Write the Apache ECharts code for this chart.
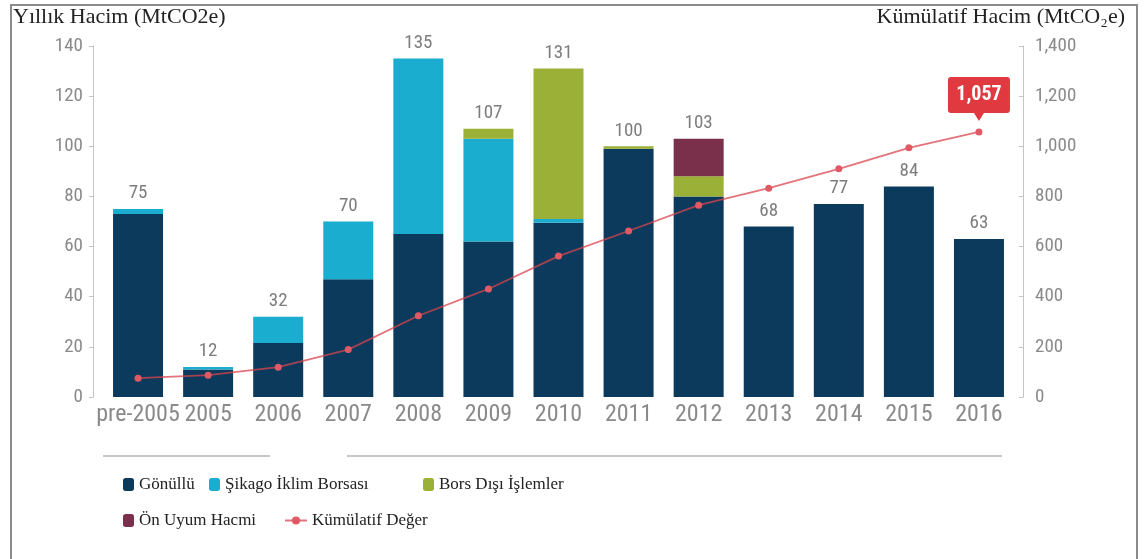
<!DOCTYPE html>
<html>
<head>
<meta charset="utf-8">
<script src="https://cdn.jsdelivr.net/npm/echarts@6/dist/echarts.min.js"></script>
<style>
html,body{margin:0;padding:0;background:#fff;}
#chart{width:1144px;height:559px;}
</style>
</head>
<body>
<div id="chart"></div>
<script>
const categories = ['pre-2005','2005','2006','2007','2008','2009','2010','2011','2012','2013','2014','2015','2016'];
const gonullu   = [73, 11, 21.5, 47, 65, 62, 69.5, 99, 80, 68, 77, 84, 63];
const sikago    = [2, 1, 10.5, 23, 70, 41, 1.5, 0, 0, 0, 0, 0, 0];
const borsDisi  = [0, 0, 0, 0, 0, 4, 60, 1, 8, 0, 0, 0, 0];
const onUyum    = [0, 0, 0, 0, 0, 0, 0, 0, 15, 0, 0, 0, 0];
const totals    = [75, 12, 32, 70, 135, 107, 131, 100, 103, 68, 77, 84, 63];
const kumulatif = [75, 87, 119, 189, 324, 431, 562, 662, 765, 833, 910, 994, 1057];
const leftTicks = [0, 20, 40, 60, 80, 100, 120, 140];
const rightTicks = [0, 200, 400, 600, 800, 1000, 1200, 1400];

const NAVY = '#0c3a5c', CYAN = '#1badd0', GREEN = '#9bb036', MAROON = '#7a2f4b', RED = '#d9444e';
const narrow = 'Roboto,"Liberation Sans Narrow",sans-serif';
const COND = 'condensed';
const serif = '"Liberation Serif","DejaVu Serif",serif';

const chart = echarts.init(document.getElementById('chart'));
const BW = 50;
const legendText = {fontFamily: serif, fontSize: 17, color: '#222'};
function lg(left, top, name, extra) {
  return Object.assign({
    left: left, top: top, data: [name], itemWidth: 11, itemHeight: 13, itemGap: 5,
    textStyle: legendText, padding: 0, selectedMode: false
  }, extra || {});
}
chart.setOption({
  animation: false,
  graphic: [
    {type: 'rect', shape: {x: 11, y: 5, width: 1126, height: 560}, style: {fill: 'none', stroke: '#8a8a8a', lineWidth: 2}, silent: true},
    {type: 'line', shape: {x1: 103, y1: 456, x2: 270, y2: 456}, style: {stroke: '#c8c8c8', lineWidth: 2}},
    {type: 'line', shape: {x1: 347, y1: 456, x2: 1002, y2: 456}, style: {stroke: '#c8c8c8', lineWidth: 2}},
    {type: 'text', left: 13, top: 6, style: {text: 'Yıllık Hacim (MtCO2e)', font: '22px ' + serif, fill: '#222'}},
    {type: 'text', right: 19, top: 6, style: {text: 'Kümülatif Hacim (MtCO\u2082e)', font: '22px ' + serif, fill: '#222'}}
  ],
  legend: [
    lg(123, 476, 'Gönüllü'),
    lg(209, 476, 'Şikago İklim Borsası'),
    lg(423, 476, 'Bors Dışı İşlemler', {itemGap: 9}),
    lg(123, 512, 'Ön Uyum Hacmi'),
    lg(284, 512, 'Kümülatif Değer', {itemWidth: 22, itemHeight: 10})
  ],
  grid: {left: 103, right: 130, top: 46, bottom: 162},
  xAxis: {
    type: 'category', data: categories,
    axisLine: {show: false}, axisTick: {show: false},
    axisLabel: {interval: 0, fontFamily: narrow, fontStyle: COND, fontSize: 24, color: '#8a8a8a', margin: 6}
  },
  yAxis: [
    {type: 'value', min: 0, max: 140, interval: 20, offset: 10,
     axisLine: {show: true, lineStyle: {color: '#c4c4c4'}},
     axisTick: {show: true, length: 4, lineStyle: {color: '#c4c4c4'}},
     splitLine: {show: false},
     axisLabel: {fontFamily: narrow, fontStyle: COND, fontSize: 19, color: '#8a8a8a', margin: 10,
       formatter: v => leftTicks.includes(v) ? String(v) : ''}},
    {type: 'value', min: 0, max: 1400, interval: 200, offset: 9,
     axisLine: {show: true, lineStyle: {color: '#c4c4c4'}},
     axisTick: {show: true, length: 4, inside: true, lineStyle: {color: '#c4c4c4'}},
     splitLine: {show: false},
     axisLabel: {fontFamily: narrow, fontStyle: COND, fontSize: 19, color: '#8a8a8a', margin: 12,
       formatter: v => rightTicks.includes(v) ? v.toLocaleString('en-US') : ''}}
  ],
  series: [
    {name: 'Gönüllü', type: 'bar', stack: 's', barWidth: BW, data: gonullu, itemStyle: {color: NAVY}},
    {name: 'Şikago İklim Borsası', type: 'bar', stack: 's', barWidth: BW, data: sikago, itemStyle: {color: CYAN}},
    {name: 'Bors Dışı İşlemler', type: 'bar', stack: 's', barWidth: BW, data: borsDisi, itemStyle: {color: GREEN}},
    {name: 'Ön Uyum Hacmi', type: 'bar', stack: 's', barWidth: BW, data: onUyum, itemStyle: {color: MAROON}},
    {name: 'Toplam', type: 'bar', barWidth: BW, barGap: '-100%', data: totals, z: 0, silent: true,
     itemStyle: {color: 'rgba(0,0,0,0)'},
     label: {show: true, position: 'top', distance: 6, fontFamily: narrow, fontStyle: COND, fontSize: 19, color: '#7d7d7d'}},
    {name: 'Kümülatif Değer', type: 'line', yAxisIndex: 1, data: kumulatif, z: 5,
     symbol: 'circle', symbolSize: 7,
     lineStyle: {color: RED, width: 1.8, opacity: 0.75},
     itemStyle: {color: '#e05a66'},
     markPoint: {
       data: [{coord: [categories.length - 1, kumulatif[kumulatif.length - 1]], value: kumulatif[kumulatif.length - 1]}],
       symbol: 'path://M3,0 H59 Q62,0 62,3 V33 Q62,36 59,36 H36 L31,44 L26,36 H3 Q0,36 0,33 V3 Q0,0 3,0 Z',
       symbolSize: [62, 44], symbolOffset: [0, -33], symbolKeepAspect: false,
       itemStyle: {color: '#e0393f'},
       label: {show: true, offset: [0, -4], color: '#fff', fontFamily: narrow, fontStyle: COND, fontWeight: 'bold', fontSize: 20,
         formatter: p => p.value.toLocaleString('en-US')}
     }}
  ]
});
</script>
</body>
</html>
